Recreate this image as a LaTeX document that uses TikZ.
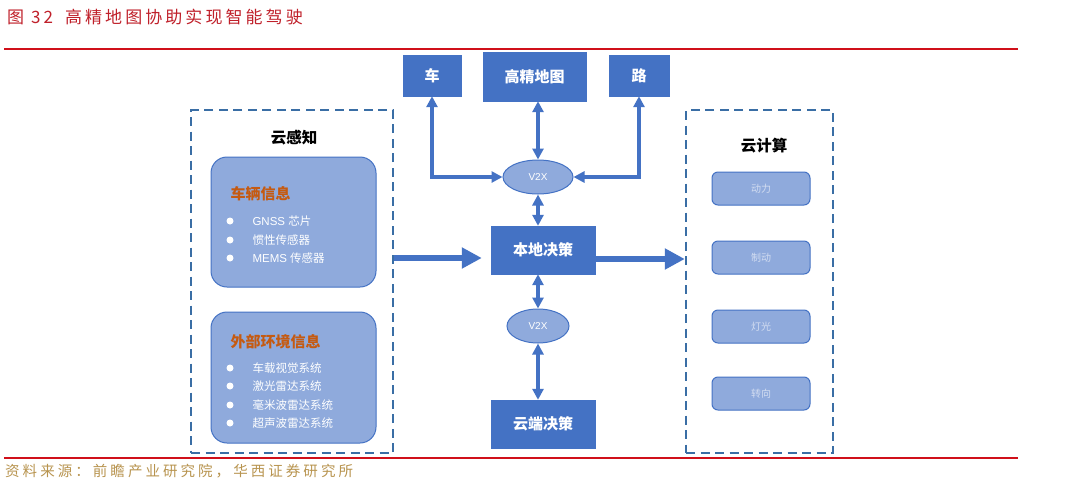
\documentclass[tikz,border=0pt]{standalone}
\usepackage{fontspec}
\setmainfont{Liberation Sans}
\newfontfamily\cjk{Noto Sans CJK SC}
\newfontfamily\cjkls[LetterSpace=18]{Noto Sans CJK SC}
\newfontfamily\cjksrc[LetterSpace=21]{Noto Sans CJK SC}
\usetikzlibrary{arrows.meta,shapes.geometric}
\definecolor{dblue}{HTML}{4472C4}
\definecolor{lblue}{HTML}{8FAADC}
\definecolor{dashc}{HTML}{3A6EA5}
\definecolor{titlered}{HTML}{C0202A}
\definecolor{linered}{HTML}{D0101A}
\definecolor{orangec}{HTML}{C55A11}
\definecolor{srcc}{HTML}{B8944F}
\definecolor{faint}{HTML}{D3DDF1}
\tikzset{
  dashbox/.style={draw=dashc, line width=2.4pt, dash pattern=on 9pt off 5.5pt, inner sep=0pt},
  infobox/.style={draw=dblue, fill=lblue, line width=1pt, rounded corners=16pt, inner sep=0pt},
  actbox/.style={draw=dblue, fill=lblue, line width=1pt, rounded corners=6pt, inner sep=0pt,
    minimum width=98pt, minimum height=33pt, text=faint, font=\cjk\fontsize{10}{10}\selectfont},
  bluebox/.style={draw=dblue, fill=dblue, inner sep=0pt, text=white, font=\cjk\fontsize{15}{15}\selectfont\bfseries},
  v2x/.style={ellipse, draw=dblue, fill=lblue, line width=1pt, inner sep=0pt, minimum height=34pt,
    text=white, font=\fontsize{10}{10}\selectfont},
  bullet/.style={circle, fill=white, inner sep=0pt, minimum size=7pt},
  itemtext/.style={anchor=west, text=white, font=\cjk\fontsize{11.5}{11.5}\selectfont},
  headtext/.style={anchor=west, text=orangec, font=\cjk\fontsize{15}{15}\selectfont\bfseries},
  cloudtitle/.style={text=black, font=\cjk\fontsize{15.5}{15.5}\selectfont\bfseries},
  biarrow/.style={draw=dblue, line width=3.5pt, {Triangle[length=11pt,width=11pt]}-{Triangle[length=11pt,width=11pt]}},
  bigarrow/.style={draw=dblue, line width=6.5pt, -{Triangle[length=20pt,width=20pt]}},
  redline/.style={draw=linered, line width=2.6pt}
}
\begin{document}
\begin{tikzpicture}[x=1pt,y=-1pt]
\useasboundingbox (0,0) rectangle (1080,488);
\fill[white] (0,0) rectangle (1080,488);

% title and rules
\node[anchor=west, inner sep=0pt, text=titlered, font=\cjkls\fontsize{17}{17}\selectfont] (title) at (7,17)
  {图\hspace{7pt}32\hspace{12pt}高精地图协助实现智能驾驶};
\draw[redline] (4,49) -- (1018,49);
\draw[redline] (4,458) -- (1018,458);
\node[anchor=west, inner sep=0pt, text=srcc, font=\cjksrc\fontsize{14.5}{14.5}\selectfont] (src) at (5,471)
  {资料来源：前瞻产业研究院，华西证券研究所};

% left dashed box
\node[dashbox, minimum width=202pt, minimum height=343pt] (lbox) at (292,281.5) {};
\node[cloudtitle] (lt) at (294,138) {云感知};
\node[infobox, minimum width=165pt, minimum height=130pt] (veh) at (293.5,222) {};
\node[headtext] (vehh) at (227,194) {车辆信息};
\node[bullet] (b1) at (230,221) {};
\node[bullet] (b2) at (230,240) {};
\node[bullet] (b3) at (230,258) {};
\node[itemtext] (t1) at (249,221) {\fontspec{Liberation Sans}GNSS\ \cjk 芯片};
\node[itemtext] (t2) at (249,240) {惯性传感器};
\node[itemtext] (t3) at (249,258) {\fontspec{Liberation Sans}MEMS\ \cjk 传感器};

\node[infobox, minimum width=165pt, minimum height=131pt] (env) at (293.5,377.5) {};
\node[headtext] (envh) at (227,342) {外部环境信息};
\node[bullet] (c1) at (230,368) {};
\node[bullet] (c2) at (230,386) {};
\node[bullet] (c3) at (230,405) {};
\node[bullet] (c4) at (230,423) {};
\node[itemtext] (u1) at (249,368) {车载视觉系统};
\node[itemtext] (u2) at (249,386) {激光雷达系统};
\node[itemtext] (u3) at (249,405) {毫米波雷达系统};
\node[itemtext] (u4) at (249,423) {超声波雷达系统};

% right dashed box
\node[dashbox, minimum width=147pt, minimum height=343pt] (rbox) at (759.5,281.5) {};
\node[cloudtitle] (rt) at (764,146) {云计算};
\node[actbox] (a1) at (761,188.5) {动力};
\node[actbox] (a2) at (761,257.5) {制动};
\node[actbox] (a3) at (761,326.5) {灯光};
\node[actbox] (a4) at (761,393.5) {转向};

% centre column
\node[bluebox, minimum width=58pt, minimum height=41pt] (che) at (432,75.5) {车};
\node[bluebox, minimum width=103pt, minimum height=49pt] (map) at (534.5,76.5) {高精地图};
\node[bluebox, minimum width=60pt, minimum height=41pt] (lu) at (639,75.5) {路};
\node[v2x, minimum width=70pt] (v2xa) at (538,177) {V2X};
\node[bluebox, minimum width=104pt, minimum height=48pt] (local) at (543,250) {本地决策};
\node[v2x, minimum width=62pt] (v2xb) at (538,326) {V2X};
\node[bluebox, minimum width=104pt, minimum height=48pt] (cloud) at (543,424) {云端决策};

% connectors
\draw[biarrow] (che.south) |- (v2xa.west);
\draw[biarrow] (lu.south) |- (v2xa.east);
\draw[biarrow] (map.south -| v2xa) -- (v2xa.north);
\draw[biarrow] (v2xa.south) -- (local.north -| v2xa);
\draw[biarrow] (local.south -| v2xb) -- (v2xb.north);
\draw[biarrow] (v2xb.south) -- (cloud.north -| v2xb);

\coordinate (ly) at (0,258);
\coordinate (ry) at (0,259);
\draw[bigarrow, shorten >=9pt] (lbox.east |- ly) -- (local.west |- ly);
\draw[bigarrow] (local.east |- ry) -- (rbox.west |- ry);
\end{tikzpicture}
\end{document}
